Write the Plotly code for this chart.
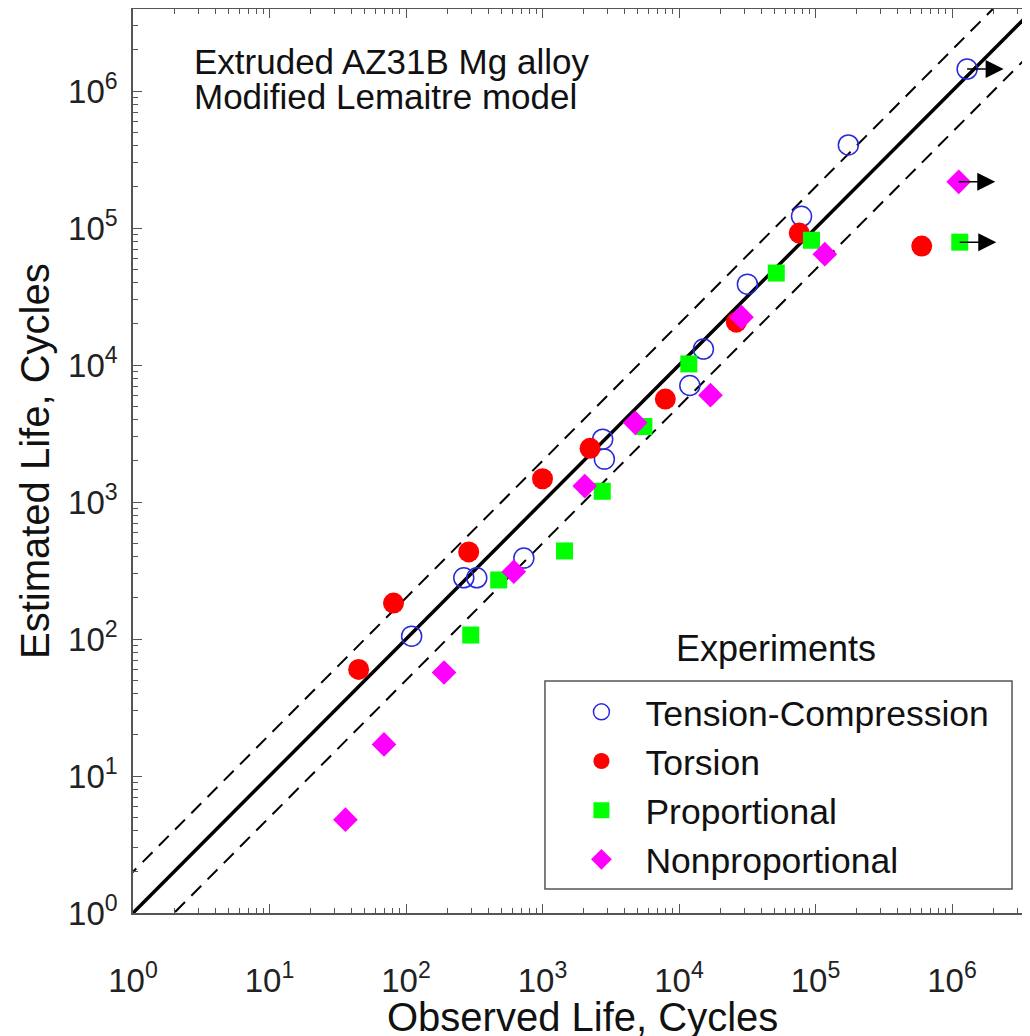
import numpy as np
import plotly.graph_objects as go

# ---------------- data ----------------
tc_obs = [110, 265, 330, 730, 2760, 2840, 12000, 15100, 31700, 79000, 174000, 1290000]
tc_est = [105, 280, 280, 390, 2880, 2060, 7100, 13100, 39000, 122000, 405000, 1450000]

tor_obs = [45, 81, 288, 1000, 2230, 7940, 26300, 76000, 600000]
tor_est = [60, 183, 433, 1480, 2470, 5650, 20600, 92000, 74000]

pro_obs = [298, 478, 1450, 2740, 5530, 11800, 51600, 93500, 1140000]
pro_est = [107, 270, 440, 1200, 3560, 10200, 47000, 81600, 79000]

np_obs = [36, 69, 190, 616, 2040, 4780, 17000, 28700, 117000, 1120000]
np_est = [4.8, 17, 57, 310, 1310, 3790, 6030, 22400, 64600, 218000]

# run-out specimens (arrows)
runout_obs = [1290000, 1120000, 1140000]
runout_est = [1450000, 218000, 79000]

tick_vals = [1, 10, 100, 1000, 10000, 100000, 1000000]
tick_text = ["10<sup>0</sup>", "10<sup>1</sup>", "10<sup>2</sup>", "10<sup>3</sup>",
             "10<sup>4</sup>", "10<sup>5</sup>", "10<sup>6</sup>"]

series_names = ["Tension-Compression", "Torsion", "Proportional", "Nonproportional"]

FONT = "Liberation Sans, Arial, sans-serif"

fig = go.Figure()

# reference lines: 1:1 and factor-of-two bands
line_x = [0.1, 1e8]
fig.add_trace(go.Scatter(x=line_x, y=[v * 2 for v in line_x], mode="lines",
                         line=dict(color="black", width=2, dash="14px,9px"),
                         showlegend=False, hoverinfo="skip"))
fig.add_trace(go.Scatter(x=line_x, y=[v / 2 for v in line_x], mode="lines",
                         line=dict(color="black", width=2, dash="14px,9px"),
                         showlegend=False, hoverinfo="skip"))
fig.add_trace(go.Scatter(x=line_x, y=line_x, mode="lines",
                         line=dict(color="black", width=3.5),
                         showlegend=False, hoverinfo="skip"))

fig.add_trace(go.Scatter(x=tc_obs, y=tc_est, mode="markers", name=series_names[0],
                         marker=dict(symbol="circle-open", size=20,
                                     color="#2828dc", line=dict(width=1.5, color="#2828dc"))))
fig.add_trace(go.Scatter(x=tor_obs, y=tor_est, mode="markers", name=series_names[1],
                         marker=dict(symbol="circle", size=21, color="#ff0000")))
fig.add_trace(go.Scatter(x=pro_obs, y=pro_est, mode="markers", name=series_names[2],
                         marker=dict(symbol="square", size=17, color="#00ff00")))
fig.add_trace(go.Scatter(x=np_obs, y=np_est, mode="markers", name=series_names[3],
                         marker=dict(symbol="diamond", size=19, color="#ff00ff")))

annotations = []
for xo, ye in zip(runout_obs, runout_est):
    annotations.append(dict(x=np.log10(xo), y=np.log10(ye), xref="x", yref="y",
                            ax=38, ay=0, text="", showarrow=True,
                            arrowside="start", startarrowhead=2, startarrowsize=2.4,
                            arrowwidth=1.5, arrowcolor="black",
                            standoff=0, startstandoff=0))

TXT = dict(family=FONT, color="#111")
annotations += [
    dict(x=0.0652, y=0.9414, xref="paper", yref="paper", xanchor="left", yanchor="middle",
         text="Extruded AZ31B Mg alloy", showarrow=False, font=dict(size=35, **TXT)),
    dict(x=0.0652, y=0.9032, xref="paper", yref="paper", xanchor="left", yanchor="middle",
         text="Modified Lemaitre model", showarrow=False, font=dict(size=35, **TXT)),
    dict(x=0.711, y=0.2931, xref="paper", yref="paper", xanchor="center", yanchor="middle",
         text="Experiments", showarrow=False, font=dict(size=36, **TXT)),
    # axis titles
    dict(x=0.497, y=-0.1150, xref="paper", yref="paper", xanchor="center", yanchor="middle",
         text="Observed Life, Cycles", showarrow=False, font=dict(size=40, **TXT)),
    dict(x=-0.1083, y=0.5, xref="paper", yref="paper", xanchor="center", yanchor="middle",
         text="Estimated Life, Cycles", textangle=-90, showarrow=False,
         font=dict(size=40, **TXT)),
]

axis_common = dict(
    type="log", showgrid=False, zeroline=False,
    showline=True, linecolor="#555", linewidth=1.5, mirror="ticks",
    ticks="inside", ticklen=9, tickwidth=1.3, tickcolor="#555",
    tickvals=tick_vals, ticktext=tick_text,
    tickfont=dict(family=FONT, size=33, color="#222"),
    minor=dict(ticks="inside", ticklen=5, tickwidth=1, tickcolor="#555", dtick="D1"),
)

# the page adds an 8px body margin, so the figure is offset by (8, 8)
fig.update_layout(
    width=1030, height=1036,
    margin=dict(l=125, r=0, t=1, b=131, autoexpand=False),
    paper_bgcolor="white", plot_bgcolor="white",
    xaxis=dict(range=[0, 6.63], ticklabelstandoff=38, **axis_common),
    yaxis=dict(range=[0, 6.60], ticklabelstandoff=7, **axis_common),
    legend=dict(x=0.469, y=0.2552, xanchor="left", yanchor="top",
                bgcolor="rgba(0,0,0,0)", borderwidth=0, itemwidth=78,
                font=dict(family=FONT, size=35.5, color="#111"),
                traceorder="normal"),
    shapes=[dict(type="rect", xref="paper", yref="paper",
                 x0=0.4552, x1=0.9713, y0=0.0265, y1=0.2566,
                 line=dict(color="#555", width=1.5), fillcolor="white", layer="below")],
    annotations=annotations,
    showlegend=True,
)

fig.write_html("out.html")
